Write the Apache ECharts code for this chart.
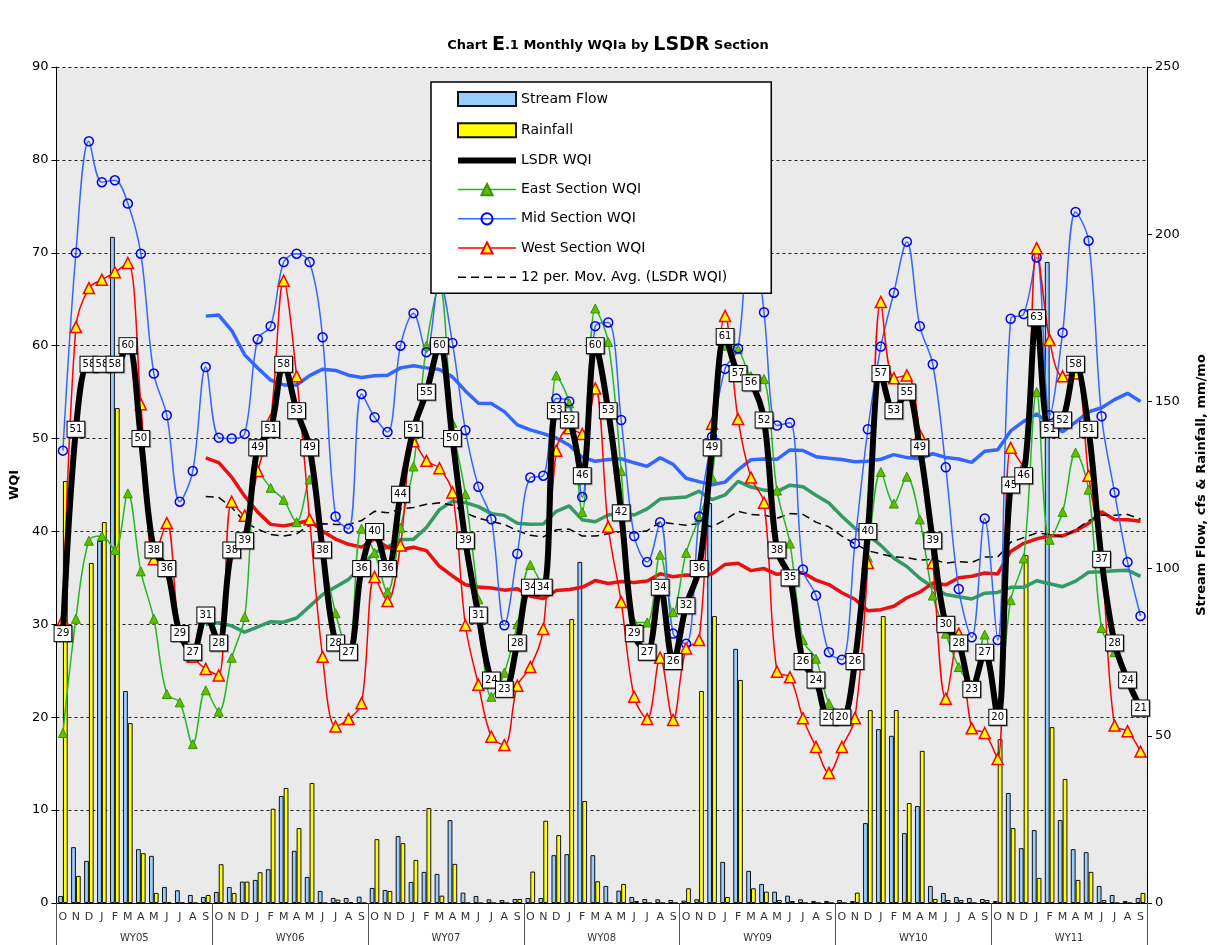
<!DOCTYPE html>
<html>
<head>
<meta charset="utf-8">
<script src="https://cdn.jsdelivr.net/npm/echarts@6/dist/echarts.min.js"></script>
<style>
  html, body { margin: 0; padding: 0; background: #fff; }
  #chart { width: 1216px; height: 945px; }
</style>
</head>
<body>
<div id="chart"></div>
<script>
// tick labels
const monthLabels = ['O', 'N', 'D', 'J', 'F', 'M', 'A', 'M', 'J', 'J', 'A', 'S'];
const waterYears = ['WY05', 'WY06', 'WY07', 'WY08', 'WY09', 'WY10', 'WY11'];

// WQI values (left axis), one per month, Oct 2004 .. Sep 2011
const lsdrWqi = [
  29, 51, 58, 58, 58, 60, 50, 38, 36, 29, 27, 31,
  28, 38, 39, 49, 51, 58, 53, 49, 38, 28, 27, 36,
  40, 36, 44, 51, 55, 60, 50, 39, 31, 24, 23, 28,
  34, 34, 53, 52, 46, 60, 53, 42, 29, 27, 34, 26,
  32, 36, 49, 61, 57, 56, 52, 38, 35, 26, 24, 20,
  20, 26, 40, 57, 53, 55, 49, 39, 30, 28, 23, 27,
  20, 45, 46, 63, 51, 52, 58, 51, 37, 28, 24, 21
];
const eastWqi = [
  18.3, 30.6, 39.0, 39.5, 38.0, 44.1, 35.7, 30.6, 22.5, 21.6, 17.1, 22.9,
  20.6, 26.4, 30.8, 46.5, 44.7, 43.4, 41.0, 45.6, 38.0, 31.2, 27.0, 40.3,
  37.7, 33.5, 40.4, 47.0, 60.0, 66.5, 51.7, 44.0, 32.7, 22.2, 24.8, 30.0,
  36.4, 34.0, 56.8, 53.8, 42.1, 64.0, 60.4, 46.5, 30.2, 30.2, 37.5, 31.3,
  37.7, 41.5, 45.8, 60.0, 59.6, 56.7, 56.4, 44.4, 38.7, 28.3, 26.3, 21.5,
  20.5, 26.0, 37.2, 46.4, 43.0, 45.9, 41.3, 33.1, 29.0, 25.4, 23.5, 28.9,
  21.5, 32.6, 37.1, 55.0, 39.1, 42.1, 48.5, 44.5, 29.6, 27.0, 24.0, 21.0
];
const midWqi = [
  48.7, 70.0, 82.0, 77.6, 77.8, 75.3, 69.9, 57.0, 52.5, 43.2, 46.5, 57.7,
  50.1, 50.0, 50.5, 60.7, 62.1, 69.0, 69.9, 69.0, 60.9, 41.6, 40.3, 54.8,
  52.3, 50.7, 60.0, 63.5, 59.3, 67.0, 60.3, 50.9, 44.8, 41.3, 29.9, 37.6,
  45.8, 46.0, 54.3, 54.0, 43.7, 62.1, 62.5, 52.0, 39.5, 36.7, 41.0, 29.0,
  27.9, 41.6, 50.2, 57.5, 59.7, 75.0, 63.6, 51.4, 51.7, 35.9, 33.1, 27.0,
  26.2, 38.7, 51.0, 59.9, 65.7, 71.2, 62.1, 58.0, 46.9, 33.8, 28.6, 41.4,
  28.3, 62.9, 63.4, 69.5, 52.5, 61.4, 74.4, 71.3, 52.4, 44.2, 36.7, 30.9
];
const westWqi = [
  30.5, 62.0, 66.2, 67.1, 67.9, 68.9, 53.7, 37.0, 40.9, 29.0, 26.5, 25.2,
  24.5, 43.2, 41.7, 46.5, 52.0, 67.0, 56.7, 41.3, 26.5, 19.0, 19.8, 21.5,
  35.1, 32.5, 38.5, 49.7, 47.6, 46.8, 44.2, 29.9, 23.5, 17.9, 17.0, 23.4,
  25.4, 29.5, 48.7, 51.1, 50.5, 55.4, 40.5, 32.4, 22.2, 19.8, 26.4, 19.7,
  27.4, 28.3, 51.6, 63.2, 52.1, 45.8, 43.1, 24.9, 24.3, 19.9, 16.8, 14.0,
  16.8, 19.9, 36.6, 64.7, 56.5, 56.8, 50.4, 36.6, 22.0, 29.0, 18.8, 18.3,
  15.5, 49.0, 47.0, 70.5, 60.6, 56.7, 57.0, 46.0, 37.0, 19.1, 18.5, 16.3
];

// right axis: stream flow (cfs) and rainfall (mm/mo)
const streamFlow = [
  2.1, 16.7, 12.6, 108.3, 199.2, 63.4, 16.1, 14.1, 4.8, 3.8, 2.4, 1.8,
  3.3, 4.8, 6.4, 6.9, 10.1, 32.0, 15.6, 7.8, 3.6, 1.5, 1.5, 1.9,
  4.5, 3.9, 20.0, 6.3, 9.3, 8.7, 24.8, 3.1, 2.1, 1.1, 0.9, 1.2,
  1.5, 1.5, 14.3, 14.6, 102.0, 14.3, 5.1, 3.7, 1.8, 1.2, 1.1, 0.9,
  0.7, 1.1, 119.6, 12.3, 76.0, 9.6, 5.7, 3.4, 2.2, 1.1, 0.6, 0.6,
  0.9, 0.6, 23.9, 52.0, 50.0, 20.9, 29.0, 5.1, 3.0, 1.8, 1.5, 1.2,
  0.6, 32.9, 16.4, 21.8, 191.7, 24.8, 16.1, 15.2, 5.1, 2.4, 0.6, 1.5
];
const rainfall = [
  126.2, 8.1, 101.7, 113.9, 148.0, 53.8, 14.9, 3.0, 0.3, 0.1, 0, 2.4,
  11.6, 3.0, 6.4, 9.2, 28.2, 34.4, 22.4, 35.9, 0, 1.0, 0.3, 0,
  19.1, 3.6, 17.9, 12.9, 28.4, 2.2, 11.7, 0, 0, 0, 0, 1.2,
  9.4, 24.6, 20.3, 84.9, 30.5, 6.5, 0, 5.7, 0.6, 0, 0, 0,
  4.4, 63.4, 85.8, 1.8, 66.7, 4.4, 3.4, 0.9, 0.6, 0, 0, 0,
  0, 3.1, 57.7, 85.8, 57.7, 29.9, 45.5, 1.2, 0.9, 0.9, 0, 0.9,
  49.0, 22.4, 104.0, 7.5, 52.6, 37.1, 6.9, 9.3, 0.9, 0, 0, 3.0
];

// 12 period moving average trendline, like the spreadsheet's
function movingAverage(values, period) {
  return values.map((v, i) => {
    if (i < period - 1) return null;
    let sum = 0;
    for (let k = i - period + 1; k <= i; k++) sum += values[k];
    return +(sum / period).toFixed(2);
  });
}

const categories = [];
waterYears.forEach(wy => monthLabels.forEach((m, i) => categories.push(wy + '-' + i + '-' + m)));

const font = 'DejaVu Sans';
const chart = echarts.init(document.getElementById('chart'));

const option = {
  animation: false,
  backgroundColor: '#fff',
  title: {
    text: '{a|Chart }{b|E}{a|.1 Monthly WQIa by }{b|LSDR}{a| Section}',
    left: 'center',
    top: 31,
    textStyle: {
      rich: {
        a: { fontSize: 13, fontWeight: 'bold', fontFamily: font, color: '#000' },
        b: { fontSize: 19, fontWeight: 'bold', fontFamily: font, color: '#000' }
      }
    }
  },
  grid: {
    left: 52, right: 69, top: 67, bottom: 42,
    show: true, backgroundColor: '#EAEAEA', borderWidth: 0
  },
  legend: {
    orient: 'vertical',
    left: 431, top: 82,
    padding: [9, 44, 9, 24],
    itemGap: 15.2,
    itemWidth: 58,
    itemHeight: 14,
    backgroundColor: '#fff',
    borderColor: '#000',
    borderWidth: 1.5,
    z: 10,
    lineStyle: { width: 'inherit' },
    textStyle: { fontSize: 14, fontFamily: font, color: '#000' },
    data: [
      { name: 'Stream Flow', icon: 'rect' },
      { name: 'Rainfall', icon: 'rect' },
      { name: 'LSDR WQI', itemStyle: { opacity: 0 }, lineStyle: { width: 6 } },
      { name: 'East Section WQI' },
      { name: 'Mid Section WQI' },
      { name: 'West Section WQI' },
      { name: '12 per. Mov. Avg. (LSDR WQI)', itemStyle: { opacity: 0 }, lineStyle: { width: 1.5 } }
    ]
  },
  xAxis: [
    {
      type: 'category',
      data: categories,
      boundaryGap: true,
      axisLine: { lineStyle: { color: '#000', width: 1 } },
      axisTick: { show: false },
      axisLabel: {
        interval: 0, margin: 9, fontSize: 11, fontFamily: font, color: '#333',
        formatter: v => v.slice(-1)
      },
      splitLine: { show: false }
    },
    {
      type: 'category',
      data: waterYears,
      position: 'bottom',
      boundaryGap: true,
      axisLine: { show: false },
      axisTick: { show: true, length: 42, lineStyle: { color: '#555', width: 1 } },
      axisLabel: { margin: 30, fontSize: 10, fontFamily: font, color: '#333' },
      splitLine: { show: false }
    }
  ],
  yAxis: [
    {
      type: 'value',
      min: 0, max: 90, interval: 10,
      name: 'WQI',
      nameLocation: 'middle',
      nameRotate: 90,
      nameGap: 34,
      nameTextStyle: { fontSize: 13, fontWeight: 'bold', fontFamily: font, color: '#000' },
      axisLine: { show: true, lineStyle: { color: '#000' } },
      axisTick: { show: true, length: 5, lineStyle: { color: '#000' } },
      axisLabel: { fontSize: 13, fontFamily: font, color: '#000', margin: 8 },
      splitLine: { show: true, lineStyle: { color: '#222', type: [3, 3], width: 1 } }
    },
    {
      type: 'value',
      min: 0, max: 250, interval: 50,
      position: 'right',
      name: 'Stream Flow, cfs & Rainfall, mm/mo',
      nameLocation: 'middle',
      nameRotate: 90,
      nameGap: 48,
      nameTextStyle: { fontSize: 13, fontWeight: 'bold', fontFamily: font, color: '#000' },
      axisLine: { show: true, lineStyle: { color: '#000' } },
      axisTick: { show: true, length: 5, lineStyle: { color: '#000' } },
      axisLabel: { fontSize: 13, fontFamily: font, color: '#000', margin: 8 },
      splitLine: { show: false }
    }
  ],
  series: [
    {
      name: 'Stream Flow', type: 'bar', yAxisIndex: 1, z: 1,
      barGap: '0%', barCategoryGap: '26%',
      itemStyle: { color: '#99CCFF', borderColor: '#111', borderWidth: 1 },
      data: streamFlow
    },
    {
      name: 'Rainfall', type: 'bar', yAxisIndex: 1, z: 1,
      itemStyle: { color: '#FFFF00', borderColor: '#111', borderWidth: 1 },
      data: rainfall
    },
    {
      name: 'Mid Avg', type: 'line', z: 2, symbol: 'none', smooth: false,
      lineStyle: { color: '#3366FF', width: 3.5 },
      data: movingAverage(midWqi, 12)
    },
    {
      name: 'East Avg', type: 'line', z: 2, symbol: 'none', smooth: false,
      lineStyle: { color: '#339966', width: 3.5 },
      data: movingAverage(eastWqi, 12)
    },
    {
      name: 'West Avg', type: 'line', z: 2, symbol: 'none', smooth: false,
      lineStyle: { color: '#E81010', width: 3.5 },
      data: movingAverage(westWqi, 12)
    },
    {
      name: '12 per. Mov. Avg. (LSDR WQI)', type: 'line', z: 2, symbol: 'none', smooth: false,
      itemStyle: { color: '#000' },
      lineStyle: { color: '#000', width: 1.5, type: [8, 5] },
      data: movingAverage(lsdrWqi, 12)
    },
    {
      name: 'East Section WQI', type: 'line', z: 3, smooth: 0.35,
      symbol: 'triangle', symbolSize: 9,
      itemStyle: { color: '#66BB00', borderColor: '#2E9900', borderWidth: 1 },
      lineStyle: { color: '#22B822', width: 1.5 },
      data: eastWqi
    },
    {
      name: 'Mid Section WQI', type: 'line', z: 3, smooth: 0.35,
      symbol: 'circle', symbolSize: 9,
      itemStyle: { color: 'rgba(0,0,0,0)', borderColor: '#0000EE', borderWidth: 1.5 },
      lineStyle: { color: '#3366FF', width: 1.5 },
      data: midWqi
    },
    {
      name: 'West Section WQI', type: 'line', z: 3, smooth: 0.35,
      symbol: 'triangle', symbolSize: 11,
      itemStyle: { color: '#FFFF00', borderColor: '#FF0000', borderWidth: 1.5 },
      lineStyle: { color: '#FF0000', width: 1.5 },
      data: westWqi
    },
    {
      name: 'LSDR WQI', type: 'line', z: 5, smooth: 0.35,
      symbol: 'circle', symbolSize: 2,
      itemStyle: { color: '#000' },
      lineStyle: { color: '#000', width: 6 },
      label: {
        show: true, position: 'inside',
        formatter: p => p.value,
        fontSize: 10, fontFamily: font, color: '#000',
        backgroundColor: '#fff', borderColor: '#000', borderWidth: 1,
        padding: [3, 2, 2, 2],
        shadowColor: 'rgba(0,0,0,0.35)', shadowOffsetX: 1, shadowOffsetY: 1
      },
      data: lsdrWqi
    }
  ]
};

chart.setOption(option);
</script>
</body>
</html>
